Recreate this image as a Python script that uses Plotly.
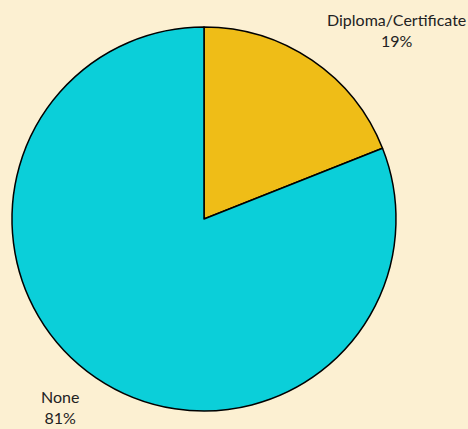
import plotly.graph_objects as go

# Qualification breakdown
categories = ["Diploma/Certificate", "None"]
shares = [19, 81]
colors = ["#EFBD17", "#0BCFD9"]

W, H = 468, 429
cx, cy, r = 204, 219, 192

fig = go.Figure(go.Pie(
    labels=categories,
    values=shares,
    sort=False,
    direction="clockwise",
    rotation=0,
    marker=dict(colors=colors, line=dict(color="#000000", width=1.5)),
    textinfo="none",
    hoverinfo="label+percent",
    domain=dict(x=[(cx - r) / W, (cx + r) / W],
                y=[1 - (cy + r) / H, 1 - (cy - r) / H]),
    showlegend=False,
))

# Outside labels: category name with its percentage beneath
label_pos = {"Diploma/Certificate": (396, 30), "None": (60, 407)}
for cat, val in zip(categories, shares):
    x, y = label_pos[cat]
    fig.add_annotation(
        x=x / W, y=1 - y / H, xref="paper", yref="paper",
        xanchor="center", yanchor="middle",
        text=f"{cat}<br>{val}%", showarrow=False,
        font=dict(family="Lato, Open Sans, sans-serif", size=16, color="#222222"),
        align="center",
    )

fig.update_layout(
    width=W, height=H,
    margin=dict(l=0, r=0, t=0, b=0),
    paper_bgcolor="#FCF0D2",
    plot_bgcolor="#FCF0D2",
)

fig.write_html("out.html")
